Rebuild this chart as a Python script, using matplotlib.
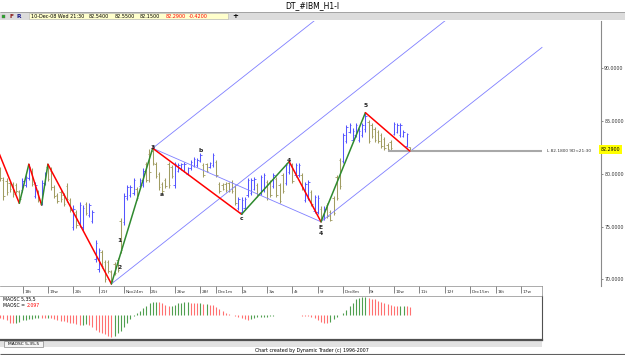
import matplotlib
matplotlib.use("Agg")
import matplotlib.pyplot as plt
import matplotlib.transforms as mtrans
from matplotlib.patches import Rectangle

# hourly IBM bars, index 0 = first bar of Nov 18 2008 (8 bars a day, Nov 28 half day)
bar_idx = list(range(-8, 123))

highs = [82.4, 80.6, 79.7, 79.6, 79.3, 79.2, 79.1, 78.5,      # Nov17
         79.6, 79.9, 80.9, 80.5, 79.2, 78.5, 79.4, 80.2,      # Nov18
         80.9, 80.6, 78.9, 78.2, 78.5, 78.2, 79.1, 77.7,      # Nov19
         77.0, 76.6, 77.3, 77.0, 77.3, 77.2, 76.6, 73.7,      # Nov20
         73.0, 72.8, 71.8, 71.8, 70.9, 71.6, 72.0, 75.8,      # Nov21
         78.2, 78.9, 78.9, 79.6, 78.75, 79.6, 80.55, 81.1,    # Nov24
         82.3, 82.42, 81.1, 80.2, 79.2, 79.6, 81.1, 80.8,     # Nov25
         81.1, 81.0, 81.0, 81.1, 80.6, 81.3, 81.6, 81.5,      # Nov26
         82.0, 81.0, 81.0, 81.1, 82.0,                        # Nov28
         81.3, 79.2, 79.1, 79.2, 79.2, 79.4, 78.9, 77.8,      # Dec1
         77.8, 77.8, 79.6, 79.6, 79.7, 79.1, 79.9, 80.1,      # Dec2
         79.4, 79.4, 80.1, 79.7, 79.1, 80.1, 81.0, 81.15,     # Dec3
         81.0, 81.0, 81.0, 80.1, 79.2, 79.4, 78.5, 78.0,      # Dec4
         78.0, 76.9, 76.9, 77.2, 76.6, 77.9, 79.9, 81.5,      # Dec5
         83.9, 84.6, 84.8, 84.3, 84.8, 84.3, 84.8, 85.79,     # Dec8
         85.1, 84.8, 84.4, 84.15, 83.9, 83.5, 82.9, 83.2,     # Dec9
         84.9, 84.8, 84.8, 84.15, 83.9, 82.55]                # Dec10
lows = [81.3, 79.3, 77.5, 78.0, 78.3, 77.8, 78.2, 77.2,
        78.3, 78.7, 79.4, 78.8, 77.7, 77.3, 77.04, 78.9,
        79.3, 78.5, 77.7, 77.2, 77.3, 76.9, 77.3, 76.4,
        74.7, 74.9, 75.0, 74.7, 76.1, 75.9, 75.3, 71.6,
        70.7, 71.1, 69.7, 70.6, 69.56, 70.4, 70.7, 72.5,
        75.1, 77.5, 77.8, 78.0, 77.5, 78.65, 78.75, 79.2,
        79.2, 80.8, 79.6, 78.5, 78.2, 78.65, 78.65, 79.6,
        78.65, 80.2, 80.4, 80.2, 79.9, 80.4, 80.6, 80.6,
        81.1, 79.7, 80.2, 80.5, 80.6,
        79.7, 78.2, 78.5, 78.3, 78.3, 78.2, 77.0, 76.6,
        76.16, 76.6, 77.8, 78.0, 78.5, 77.8, 78.0, 78.3,
        77.5, 77.8, 78.65, 77.8, 77.2, 78.2, 78.9, 80.0,
        79.1, 79.7, 79.7, 78.5, 77.3, 77.5, 76.9, 76.3,
        76.2, 75.45, 75.6, 75.8, 75.5, 76.1, 77.5, 78.6,
        81.0, 82.9, 83.9, 83.0, 83.5, 83.0, 83.5, 84.0,
        82.9, 83.4, 83.0, 82.9, 82.45, 82.26, 82.18, 82.2,
        83.7, 83.9, 83.5, 83.5, 82.5, 82.15]
opens = [82.1, 80.4, 79.4, 79.3, 79.1, 79.0, 78.9, 78.3,
         78.5, 78.9, 79.6, 80.3, 77.9, 78.3, 77.3, 79.1,
         80.6, 80.3, 78.7, 78.0, 78.3, 78.0, 78.8, 77.5,
         75.0, 76.4, 75.3, 75.0, 77.1, 76.1, 75.5, 71.9,
         71.0, 72.6, 71.6, 71.6, 70.7, 71.4, 71.8, 75.5,
         75.4, 77.7, 78.0, 78.2, 78.6, 78.8, 78.9, 80.9,
         81.9, 82.2, 80.9, 80.0, 79.0, 79.4, 80.9, 80.6,
         78.9, 80.3, 80.5, 80.3, 80.0, 80.5, 80.7, 80.8,
         81.2, 80.8, 80.9, 80.6, 80.8,
         81.1, 79.0, 78.9, 79.0, 79.1, 79.2, 78.7, 76.8,
         76.4, 76.8, 78.0, 78.2, 78.6, 78.9, 78.2, 78.5,
         79.2, 79.2, 78.8, 79.5, 78.9, 79.9, 79.1, 80.2,
         80.8, 79.9, 79.9, 79.9, 77.5, 77.7, 78.3, 76.5,
         76.4, 76.7, 75.8, 77.0, 76.4, 77.7, 79.7, 81.3,
         81.2, 83.1, 84.0, 83.2, 83.7, 83.2, 83.7, 84.2,
         84.9, 84.6, 84.2, 84.0, 83.7, 83.3, 82.7, 83.0,
         83.8, 84.0, 83.7, 83.6, 82.6, 82.54]
closes = [81.5, 79.6, 77.9, 78.3, 78.6, 78.1, 78.4, 77.6,
          79.3, 79.7, 80.6, 79.0, 78.9, 77.5, 79.1, 80.0,
          79.5, 78.7, 77.9, 77.4, 77.6, 77.1, 77.6, 76.6,
          76.7, 75.1, 77.0, 76.8, 76.3, 77.0, 76.4, 73.4,
          72.8, 71.3, 70.0, 70.8, 69.8, 70.6, 70.9, 72.8,
          77.9, 78.7, 78.7, 79.4, 77.7, 79.4, 80.3, 79.4,
          80.2, 81.0, 79.8, 78.7, 78.4, 78.8, 78.9, 79.8,
          80.9, 80.8, 80.9, 80.9, 80.5, 81.1, 81.4, 81.3,
          81.8, 79.9, 80.3, 81.0, 81.8,
          79.9, 78.4, 78.6, 78.5, 78.4, 78.4, 77.2, 77.6,
          77.5, 77.6, 79.4, 79.4, 79.5, 78.0, 79.7, 79.9,
          77.7, 78.0, 79.9, 78.0, 77.4, 78.4, 80.8, 80.9,
          79.3, 80.8, 80.8, 78.7, 79.0, 79.2, 77.1, 77.8,
          77.7, 75.7, 76.7, 76.0, 75.6, 76.3, 77.7, 78.8,
          83.7, 84.4, 84.6, 84.1, 84.6, 84.1, 84.6, 85.5,
          83.1, 83.6, 83.2, 83.1, 82.6, 82.4, 82.3, 82.4,
          84.7, 84.6, 84.6, 84.0, 83.8, 82.29]
# MAOSC 5,35,5 histogram
maosc = [-0.7, -0.84, -1.1, -1.26, -1.9, -2.1, -1.9, -1.7,
         -1.35, -1.2, -1.1, -1.0, -0.84, -0.67, -0.76, -0.84,
         -0.67, -0.84, -1.0, -1.26, -1.43, -1.6, -1.77, -1.94,
         -2.1, -2.36, -2.53, -2.53, -2.2, -2.6, -3.1, -3.8,
         -4.2, -4.5, -4.9, -5.3, -5.6, -5.2, -4.6, -4.0,
         -2.95, -1.94, -0.93, -0.3, 0.42, 1.1, 1.7, 2.3,
         2.95, 3.3, 3.37, 3.3, 2.95, 2.6, 2.3, 2.3,
         2.5, 2.95, 3.1, 3.2, 3.2, 3.1, 3.0, 2.95,
         2.95, 2.8, 2.8, 2.6, 2.45,
         2.1, 1.6, 1.0, 0.6, 0.34, 0.08, -0.17, -0.42,
         -0.67, -1.0, -1.26, -1.1, -0.84, -0.59, -0.59, -0.5,
         -0.42, -0.25, -0.25, -0.08, 0.02, -0.05, 0.08, 0.08,
         -0.05, -0.1, -0.1, -0.17, -0.25, -0.34, -0.5, -0.76,
         -1.2, -1.7, -1.94, -2.0, -1.7, -1.1, -0.6, -0.1,
         0.5, 1.26, 2.3, 3.1, 4.0, 4.4, 4.55, 4.55,
         4.4, 4.1, 4.0, 3.6, 3.3, 2.95, 2.8, 2.5,
         2.36, 2.3, 2.3, 2.3, 2.2, 2.097]

# swing pivots (bar index, 'H' or 'L')
pivots = [(-8, 'H'), (-1, 'L'), (2, 'H'), (6, 'L'), (8, 'H'), (28, 'L'),
          (41, 'H'), (69, 'L'), (84, 'H'), (94, 'L'), (108, 'H'), (122, 'L')]
fork_pts = [28, 41, 94]          # pitchfork pivot, A, B
low_line_bar = 115               # L 82.18 marker
wave_labels = [("1", 30.6, 73.7), ("2", 30.6, 71.1), ("3", 41, 82.45),
               ("a", 44, 78.0), ("b", 56, 82.2), ("c", 69, 75.8),
               ("4", 84, 81.25), ("E", 94, 74.95), ("4", 94, 74.35),
               ("5", 108, 86.45)]

day_start = [0, 8, 16, 24, 32, 40, 48, 56, 61, 69, 77, 85, 93, 101, 109,
             117, 125, 133, 141, 149, 157]
day_labels = ["18t", "19w", "20t", "21f", "Nov24m", "25t", "26w", "28f", "Dec1m",
              "2t", "3w", "4t", "5f", "Dec8m", "9t", "10w", "11t", "12f",
              "Dec15m", "16t", "17w"]
price_ticks = [70, 75, 80, 85, 90]
last_change = -0.42

W, H = 625, 355
PX0, PXW = 22.5, 3.175   # pixel of bar 0, pixels per bar


def box(x0, y0, x1, y1):
    return [x0 / W, 1 - y1 / H, (x1 - x0) / W, (y1 - y0) / H]


def bx(px):
    return (px - PX0) / PXW


fig = plt.figure(figsize=(W / 100, H / 100), dpi=100)
fig.patch.set_facecolor('white')

bg = fig.add_axes([0, 0, 1, 1])
bg.set_xlim(0, W)
bg.set_ylim(H, 0)
bg.axis('off')

# title & toolbar
bg.text(312, 6, "DT_#IBM_H1-I", ha='center', va='center', fontsize=5.5)
bg.add_patch(Rectangle((0, 12), W, 8, fc='#dcdcdc', ec='none'))
bg.hlines(12, 0, W, color='#9a9a9a', lw=0.6)
bg.add_patch(Rectangle((2, 14.5), 3, 3, fc='#22aa22', ec='#707070', lw=0.3))
bg.text(11.5, 16.2, "F", color='#8b1a1a', fontsize=4.3, fontweight='bold', ha='center', va='center')
bg.text(18.5, 16.2, "R", color='#1a1a8b', fontsize=4.3, fontweight='bold', ha='center', va='center')
bg.add_patch(Rectangle((29, 13.2), 199, 6.3, fc='#ffffcc', ec='#b4b4b4', lw=0.4))
last = len(closes) - 1
tb = [("10-Dec-08 Wed 21:30", 31, 'black'), (f"{opens[last]:.4f}", 89, 'black'),
      (f"{highs[last]:.4f}", 115, 'black'), (f"{lows[last]:.4f}", 140, 'black'),
      (f"{closes[last]:.4f}", 166, 'red'), (f"{last_change:.4f}", 189, 'red')]
for s, x, c in tb:
    bg.text(x, 16.4, s, color=c, fontsize=3.5, ha='left', va='center')
bg.text(235, 16.2, "+", fontsize=5, fontweight='bold', ha='center', va='center')

# bottom tab band and footer
bg.add_patch(Rectangle((0, 340), 542, 7, fc='#e2e2e2', ec='none'))
bg.add_patch(Rectangle((4, 341), 39, 6, fc='#f4f4f4', ec='#707070', lw=0.4))
bg.text(23.5, 344.2, "MAOSC 5,35,5", fontsize=3.2, ha='center', va='center')
bg.text(312, 350.5, "Chart created by Dynamic Trader (c) 1996-2007", fontsize=3.4,
        ha='center', va='center')
bg.hlines(353.5, 0, W, color='#606060', lw=0.8)

# ---- price panel
pa = fig.add_axes(box(0, 21, 601, 286))
pa.set_facecolor('white')
pa.set_xlim(bx(0), bx(601))
pa.set_ylim(69.36, 94.48)
for s in ['top', 'left', 'bottom']:
    pa.spines[s].set_visible(False)
pa.spines['right'].set_color('#8a8a8a')
pa.spines['right'].set_linewidth(0.8)
pa.set_xticks([])
pa.yaxis.tick_right()
pa.set_yticks(price_ticks)
pa.set_yticklabels([f"{t:.4f}" for t in price_ticks])
pa.tick_params(axis='y', direction='out', length=1.5, width=0.4, pad=0.8,
               labelsize=3.4, colors='#333333')

up = [c > o for o, c in zip(opens, closes)]
cols = ['#5555ff' if u else '#a09c62' for u in up]
pa.vlines(bar_idx, lows, highs, colors=cols, lw=0.75, zorder=2)
pa.hlines(opens, [i - 0.45 for i in bar_idx], bar_idx, colors=cols, lw=0.6, zorder=2)
pa.hlines(closes, bar_idx, [i + 0.45 for i in bar_idx], colors=cols, lw=0.6, zorder=2)


def piv_price(i, kind):
    k = i - bar_idx[0]
    return highs[k] if kind == 'H' else lows[k]


# andrews pitchfork
x_end = bx(542)
p_i, a_i, b_i = fork_pts
p_y, a_y, b_y = piv_price(p_i, 'L'), piv_price(a_i, 'H'), piv_price(b_i, 'L')
mid_i, mid_y = (a_i + b_i) / 2, (a_y + b_y) / 2
slope = (mid_y - p_y) / (mid_i - p_i)
fork_c = '#7f7fff'
for x0, y0 in [(p_i, p_y), (a_i, a_y), (b_i, b_y)]:
    pa.plot([x0, x_end], [y0, y0 + slope * (x_end - x0)], color=fork_c, lw=0.6, zorder=3)
pa.plot([a_i, b_i], [a_y, b_y], color=fork_c, lw=0.6, zorder=3)

# zigzag
for (i0, k0), (i1, k1) in zip(pivots[:-1], pivots[1:]):
    y0, y1 = piv_price(i0, k0), piv_price(i1, k1)
    pa.plot([i0, i1], [y0, y1], color='#ff0000' if y1 < y0 else '#2f8a2f',
            lw=1.1, zorder=4, solid_capstyle='round')

for s, x, y in wave_labels:
    pa.text(x, y, s, fontsize=4.3, fontweight='bold', ha='center', va='center',
            color='#222222', zorder=5)

# low marker line
ll = lows[low_line_bar - bar_idx[0]]
pa.hlines(ll, low_line_bar, x_end, color='#a8a8a8', lw=1.5, zorder=3)
pa.text(bx(547), ll, f"L {ll:.4f} 9D<21:30", fontsize=3.1, ha='left', va='center',
        color='#333333')

trans = mtrans.blended_transform_factory(pa.transAxes, pa.transData)
pa.text(1.0, closes[last], f"{closes[last]:.4f}", transform=trans, fontsize=3.4,
        ha='left', va='center', zorder=6,
        bbox=dict(boxstyle='square,pad=0.35', fc='#ffff00', ec='none'))

# ---- date strip
da = fig.add_axes(box(0, 286, 542, 295.5))
da.set_xlim(bx(0), bx(542))
da.set_ylim(0, 1)
da.set_xticks([])
da.set_yticks([])
for s in da.spines.values():
    s.set_color('#8a8a8a')
    s.set_linewidth(0.5)
da.spines['left'].set_visible(False)
da.vlines(day_start, 0.25, 1, color='#555555', lw=0.5)
for x, s in zip(day_start, day_labels):
    da.text(x + 0.5, 0.4, s, fontsize=3.1, ha='left', va='center', color='#333333')

# ---- oscillator
oa = fig.add_axes(box(0, 296, 542, 340))
oa.set_xlim(bx(0), bx(542))
oa.set_ylim(-6.3, 4.8)
oa.set_xticks([])
oa.set_yticks([])
oa.spines['left'].set_visible(False)
oa.spines['top'].set_color('#8a8a8a')
oa.spines['top'].set_linewidth(0.5)
oa.spines['right'].set_color('#505050')
oa.spines['right'].set_linewidth(0.8)
oa.spines['bottom'].set_color('#505050')
oa.spines['bottom'].set_linewidth(1.6)
ocols = ['#ff7070' if k > 0 and v < maosc[k - 1] else '#4f9f4f'
         for k, v in enumerate(maosc)]
oa.vlines(bar_idx, 0, maosc, colors=ocols, lw=0.8)
oa.text(bx(3), 4.0, "MAOSC 5,35,5", fontsize=3.3, ha='left', va='center')
oa.text(bx(3), 2.4, "MAOSC =", fontsize=3.3, ha='left', va='center')
oa.text(bx(27), 2.4, f"{maosc[-1]:.3f}", fontsize=3.3, ha='left', va='center', color='red')

fig.savefig("out.png", dpi=100)
